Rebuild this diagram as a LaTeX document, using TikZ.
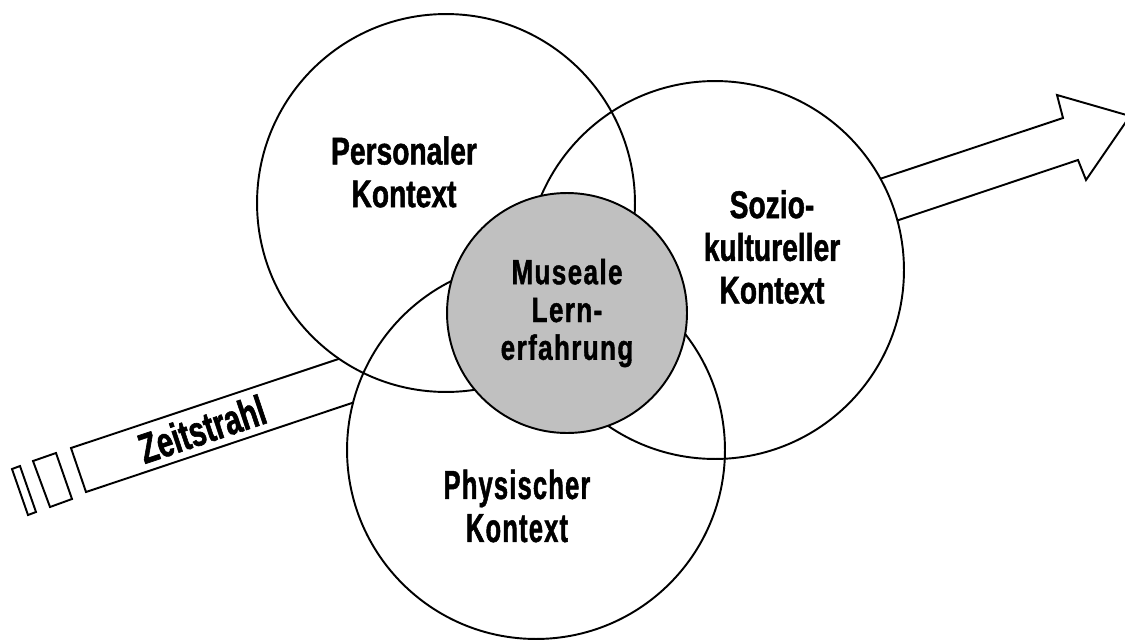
\documentclass[tikz,border=0pt]{standalone}
\usepackage{fontspec}
\setmainfont{Liberation Sans}
\newfontfamily\kontextfont[FakeStretch=0.73,FakeBold=1.2]{Liberation Sans Bold}
\newfontfamily\zeitfont[FakeStretch=0.69,FakeBold=1.4]{Liberation Sans Bold}
\newfontfamily\physfont[FakeStretch=0.63,FakeBold=1.2,LetterSpace=3]{Liberation Sans Bold}
\newfontfamily\mittefont[FakeStretch=0.74,FakeBold=1.2,LetterSpace=4]{Liberation Sans Bold}
\usetikzlibrary{positioning}
\definecolor{grau}{RGB}{192,192,192}

\begin{document}
\begin{tikzpicture}[x=0.02cm,y=-0.02cm,
  kreis/.style={draw,circle,minimum size=7.56cm,inner sep=0pt,line width=1.1pt},
  strahl/.style={draw,fill=white,line width=1.1pt,line join=miter},
  kontext/.style={align=center,font=\kontextfont\fontsize{22}{24.3}\selectfont}]
\useasboundingbox (0,0) rectangle (1125,639);
\coordinate (pmitte) at (446,203);
\coordinate (smitte) at (715,270);
\coordinate (fmitte) at (536,450);
% Zeitstrahl
\draw[strahl] (71,448) -- (1063,118) -- (1057,95) -- (1130,116) -- (1086,180) -- (1078,160) -- (86,492) -- cycle;
\draw[strahl] (33,461) -- (56,453) -- (72,499) -- (50,507) -- cycle;
\draw[strahl] (12,469) -- (20,466) -- (36,512) -- (28,515) -- cycle;
\node[rotate=18.5,inner sep=0pt,font=\zeitfont\fontsize{24}{26}\selectfont] (zeit) at (202,429) {Zeitstrahl};
% Kontexte
\foreach \m in {pmitte,smitte,fmitte}
  \fill[white] (\m) circle[radius=189];
\node[kreis] (pers) at (pmitte) {};
\node[kreis] (sozio) at (smitte) {};
\node[kreis] (phys) at (fmitte) {};
\node[kontext] (perstext) at (404,172) {Personaler\\Kontext};
\node[kontext] (soziotext) at (772,247) {Sozio-\\kultureller\\Kontext};
\node[align=center,font=\physfont\fontsize{23}{24.5}\selectfont] (phystext) at (517,506) {Physischer\\Kontext};
% Mitte
\node[kreis,fill=grau,minimum size=4.8cm,align=center,
  font=\mittefont\fontsize{20}{21.5}\selectfont] (mitte) at (567,313) {Museale\\Lern-\\erfahrung};
\end{tikzpicture}
\end{document}
